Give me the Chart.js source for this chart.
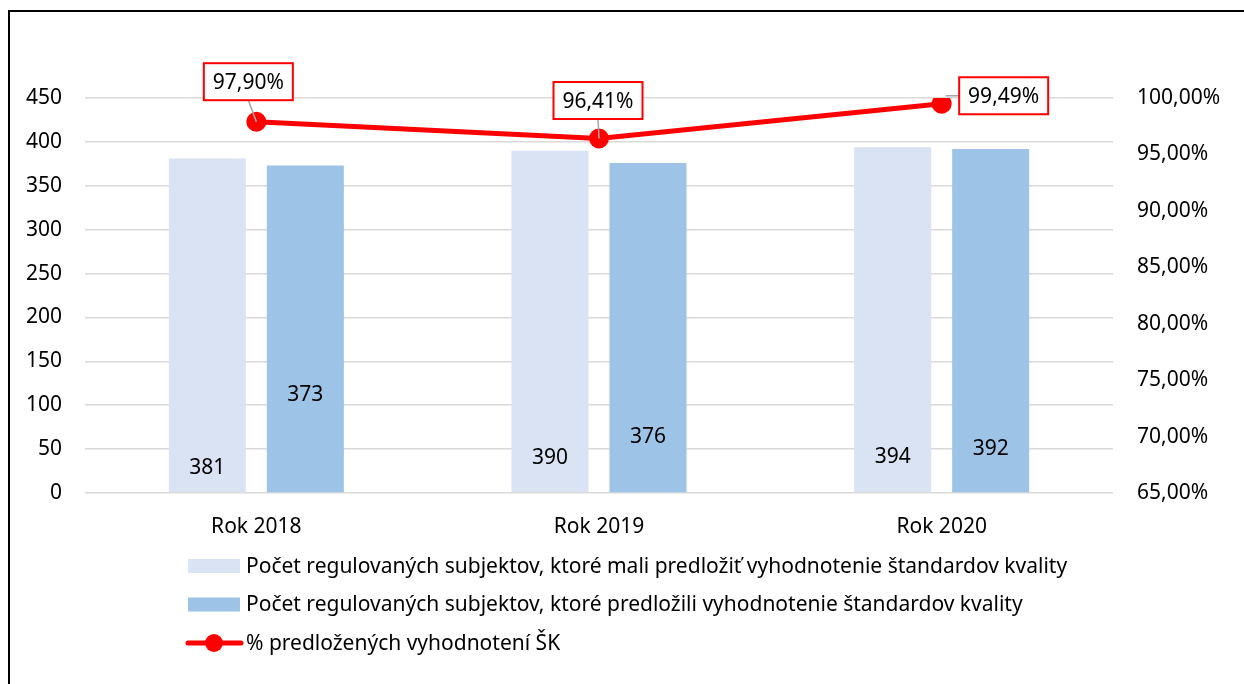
<!DOCTYPE html>
<html>
<head>
<meta charset="utf-8">
<script src="https://cdn.jsdelivr.net/npm/chart.js@4"></script>
<style>
  html, body { margin: 0; padding: 0; background: #fff; }
  #wrap { width: 1244px; height: 684px; position: relative; }
</style>
</head>
<body>
<div id="wrap"><canvas id="chart"></canvas></div>
<script>
const roky = ['Rok 2018', 'Rok 2019', 'Rok 2020'];
const mali_predlozit = [381, 390, 394];
const predlozili = [373, 376, 392];
const percento = [97.90, 96.41, 99.49];

const nazvy = [
    'Počet regulovaných subjektov, ktoré mali predložiť vyhodnotenie štandardov kvality',
    'Počet regulovaných subjektov, ktoré predložili vyhodnotenie štandardov kvality',
    '% predložených vyhodnotení ŠK'
];

// kde su popisky stlpcov posunute (v jednotkach lavej osi)
const popisky_mali = [28, 40, 41];
const popisky_predlozili = [112, 64, 50];

const FONT = "'Noto Sans', sans-serif";
const FSIZE = 21;
const fmtPct = v => v.toFixed(2).replace('.', ',') + '%';

// posun ramcekov s percentami od bodu
const offsets = [[-8, -40], [-1, -38], [62, -8]];

const popiskyPlugin = {
    id: 'popisky',
    afterDatasetsDraw(chart) {
        const ctx = chart.ctx;
        const y = chart.scales.y;
        const meta0 = chart.getDatasetMeta(0);
        const meta1 = chart.getDatasetMeta(1);
        const meta2 = chart.getDatasetMeta(2);
        ctx.save();
        ctx.font = FSIZE + 'px ' + FONT;
        ctx.fillStyle = '#000';
        ctx.textAlign = 'center';
        ctx.textBaseline = 'middle';
        meta0.data.forEach((bar, i) => {
            ctx.fillText(String(mali_predlozit[i]), bar.x, y.getPixelForValue(popisky_mali[i]));
        });
        meta1.data.forEach((bar, i) => {
            ctx.fillText(String(predlozili[i]), bar.x, y.getPixelForValue(popisky_predlozili[i]));
        });

        // spojovacie ciary
        meta2.data.forEach((pt, i) => {
            const cx = pt.x + offsets[i][0];
            const cy = pt.y + offsets[i][1];
            const w = 89, h = 37;
            ctx.strokeStyle = '#a6a6a6';
            ctx.lineWidth = 1.5;
            ctx.beginPath();
            if (i === 2) {
                ctx.moveTo(pt.x + 4, cy);
                ctx.lineTo(cx - w / 2, cy);
            } else {
                ctx.moveTo(pt.x, pt.y);
                ctx.lineTo(cx, cy + h / 2);
            }
            ctx.stroke();
        });
        ctx.restore();
    },
    afterDraw(chart) {
        const ctx = chart.ctx;
        const meta2 = chart.getDatasetMeta(2);
        ctx.save();
        meta2.data.forEach((pt, i) => {
            const cx = pt.x + offsets[i][0];
            const cy = pt.y + offsets[i][1];
            const w = 89, h = 37;
            ctx.fillStyle = '#fff';
            ctx.fillRect(cx - w / 2, cy - h / 2, w, h);
            ctx.strokeStyle = '#ff0000';
            ctx.lineWidth = 2;
            ctx.strokeRect(cx - w / 2, cy - h / 2, w, h);
            ctx.fillStyle = '#000';
            ctx.font = FSIZE + 'px ' + FONT;
            ctx.textAlign = 'center';
            ctx.textBaseline = 'middle';
            ctx.fillText(fmtPct(percento[i]), cx, cy + 1);
        });

        // legenda
        const lx = 188, ly = 566, step = 38.5;
        const farby = ['#dae3f3', '#9dc3e6'];
        ctx.font = FSIZE + 'px ' + FONT;
        ctx.textAlign = 'left';
        ctx.textBaseline = 'middle';
        nazvy.forEach((n, i) => {
            const yy = ly + i * step;
            if (i < 2) {
                ctx.fillStyle = farby[i];
                ctx.fillRect(lx, yy - 7, 52, 14);
            } else {
                ctx.strokeStyle = '#ff0000';
                ctx.lineWidth = 5;
                ctx.lineCap = 'round';
                ctx.beginPath();
                ctx.moveTo(lx, yy);
                ctx.lineTo(lx + 53, yy);
                ctx.stroke();
                ctx.fillStyle = '#ff0000';
                ctx.beginPath();
                ctx.arc(lx + 26, yy, 9, 0, Math.PI * 2);
                ctx.fill();
            }
            ctx.fillStyle = '#000';
            ctx.fillText(n, lx + 58, yy + 1);
        });

        // ramcek
        ctx.strokeStyle = '#000';
        ctx.lineWidth = 2;
        ctx.lineCap = 'butt';
        ctx.beginPath();
        ctx.moveTo(9, 684);
        ctx.lineTo(9, 11);
        ctx.lineTo(1244, 11);
        ctx.stroke();
        ctx.restore();
    }
};

const ctx = document.getElementById('chart').getContext('2d');
new Chart(ctx, {
    type: 'bar',
    data: {
        labels: roky,
        datasets: [
            {
                label: nazvy[0],
                data: mali_predlozit,
                backgroundColor: '#dae3f3',
                yAxisID: 'y',
                order: 2,
                categoryPercentage: 0.572,
                barPercentage: 0.786
            },
            {
                label: nazvy[1],
                data: predlozili,
                backgroundColor: '#9dc3e6',
                yAxisID: 'y',
                order: 2,
                categoryPercentage: 0.572,
                barPercentage: 0.786
            },
            {
                type: 'line',
                label: nazvy[2],
                data: percento,
                borderColor: '#ff0000',
                backgroundColor: '#ff0000',
                borderWidth: 5,
                pointRadius: 10,
                pointHoverRadius: 10,
                pointBorderWidth: 0,
                yAxisID: 'y1',
                order: 1
            }
        ]
    },
    options: {
        responsive: true,
        maintainAspectRatio: false,
        animation: false,
        layout: { padding: { top: 98, right: 0, left: 0, bottom: 0 } },
        plugins: {
            legend: { display: false },
            tooltip: { enabled: false }
        },
        scales: {
            x: {
                grid: { display: false },
                border: { display: false },
                ticks: { color: '#000', font: { size: FSIZE, family: FONT }, padding: 13 },
                afterFit: s => { s.height = 191; }
            },
            y: {
                position: 'left',
                min: 0,
                max: 450,
                ticks: { stepSize: 50, color: '#000', font: { size: FSIZE, family: FONT }, padding: 23 },
                grid: { color: '#d9d9d9', lineWidth: 1.5, drawTicks: false },
                border: { display: false },
                afterFit: s => { s.width = 85; }
            },
            y1: {
                position: 'right',
                min: 65,
                max: 100,
                ticks: {
                    stepSize: 5,
                    color: '#000',
                    font: { size: FSIZE, family: FONT },
                    padding: 24,
                    callback: v => fmtPct(v)
                },
                grid: { display: false, drawTicks: false },
                border: { display: false },
                afterFit: s => { s.width = 131; }
            }
        }
    },
    plugins: [popiskyPlugin]
});
</script>
</body>
</html>
